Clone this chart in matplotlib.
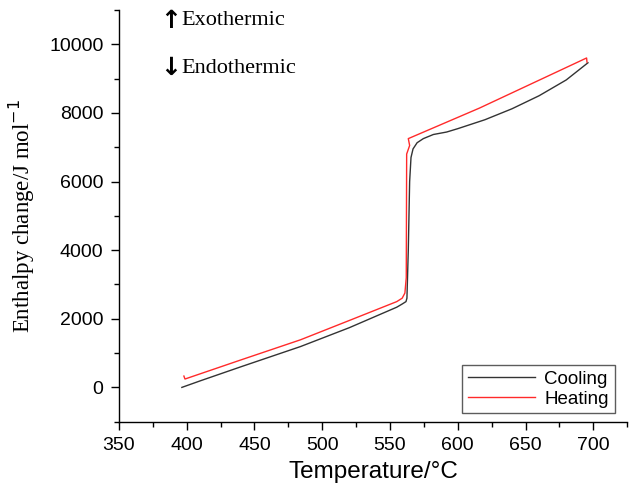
import matplotlib.pyplot as plt
from matplotlib.ticker import MultipleLocator

# Cooling curve (black)
cooling_t = [396.5, 410, 440, 484, 520, 555, 559, 561.8, 562.5, 563.5, 564.5, 565.5,
             567, 570, 574.6, 582, 591.8, 600, 620, 640, 660, 680, 696]
cooling_h = [0, 190, 600, 1190, 1740, 2337, 2430, 2500, 2600, 4000, 6000, 6700,
             6950, 7130, 7250, 7370, 7442, 7540, 7800, 8120, 8500, 8960, 9460]

# Heating curve (red)
heating_t = [398, 398.8, 440, 484, 520, 555, 559, 561, 562, 562.3, 564.5, 563.5,
             616, 695, 695.3]
heating_h = [330, 244, 800, 1387, 1950, 2500, 2600, 2750, 3200, 6800, 7050, 7250,
             8140, 9600, 9480]

fig = plt.figure(figsize=(6.32, 4.97), dpi=100)
ax = fig.add_axes([0.188, 0.1515, 0.8045, 0.8285])

ax.plot(cooling_t, cooling_h, color="#333333", lw=1.0, label="Cooling")
ax.plot(heating_t, heating_h, color="#ff2a2a", lw=1.0, label="Heating")

ax.set_xlim(350, 725)
ax.set_ylim(-1000, 11000)
ax.xaxis.set_minor_locator(MultipleLocator(25))
ax.yaxis.set_major_locator(MultipleLocator(2000))
ax.yaxis.set_minor_locator(MultipleLocator(1000))
ax.set_xticks(range(350, 701, 50))

for s in ["top", "right"]:
    ax.spines[s].set_visible(False)
for s in ["left", "bottom"]:
    ax.spines[s].set_linewidth(1.0)

ax.tick_params(which="major", direction="out", length=6, width=1.0,
               labelsize=14, pad=5)
ax.tick_params(which="minor", direction="out", length=3.5, width=1.0)
for lbl in ax.get_xticklabels() + ax.get_yticklabels():
    lbl.set_fontfamily("Liberation Sans")

ax.set_xlabel("Temperature/°C", fontsize=17.5, family="Liberation Sans", labelpad=5)
ax.set_ylabel("Enthalpy change/J mol$^{-1}$", fontsize=16.5, family="Liberation Serif",
              labelpad=9)

# exo / endo markers
ax.text(396, 10690, "\u2191", fontsize=18, fontweight="bold", family="DejaVu Sans",
        va="center", ha="right")
ax.text(396, 10690, "Exothermic", fontsize=16, family="Liberation Serif",
        va="center", ha="left")
ax.text(396, 9300, "\u2193", fontsize=18, fontweight="bold", family="DejaVu Sans",
        va="center", ha="right")
ax.text(396, 9300, "Endothermic", fontsize=16, family="Liberation Serif",
        va="center", ha="left")

leg = ax.legend(loc="lower right", bbox_to_anchor=(0.975, 0.02), fancybox=False,
                prop={"family": "Liberation Sans", "size": 13.5}, handlelength=3.6,
                borderpad=0.3, labelspacing=0.15, handletextpad=0.5,
                borderaxespad=0)
leg.get_frame().set_edgecolor("#333333")
leg.get_frame().set_linewidth(1.0)

fig.savefig("out.png", dpi=100)
